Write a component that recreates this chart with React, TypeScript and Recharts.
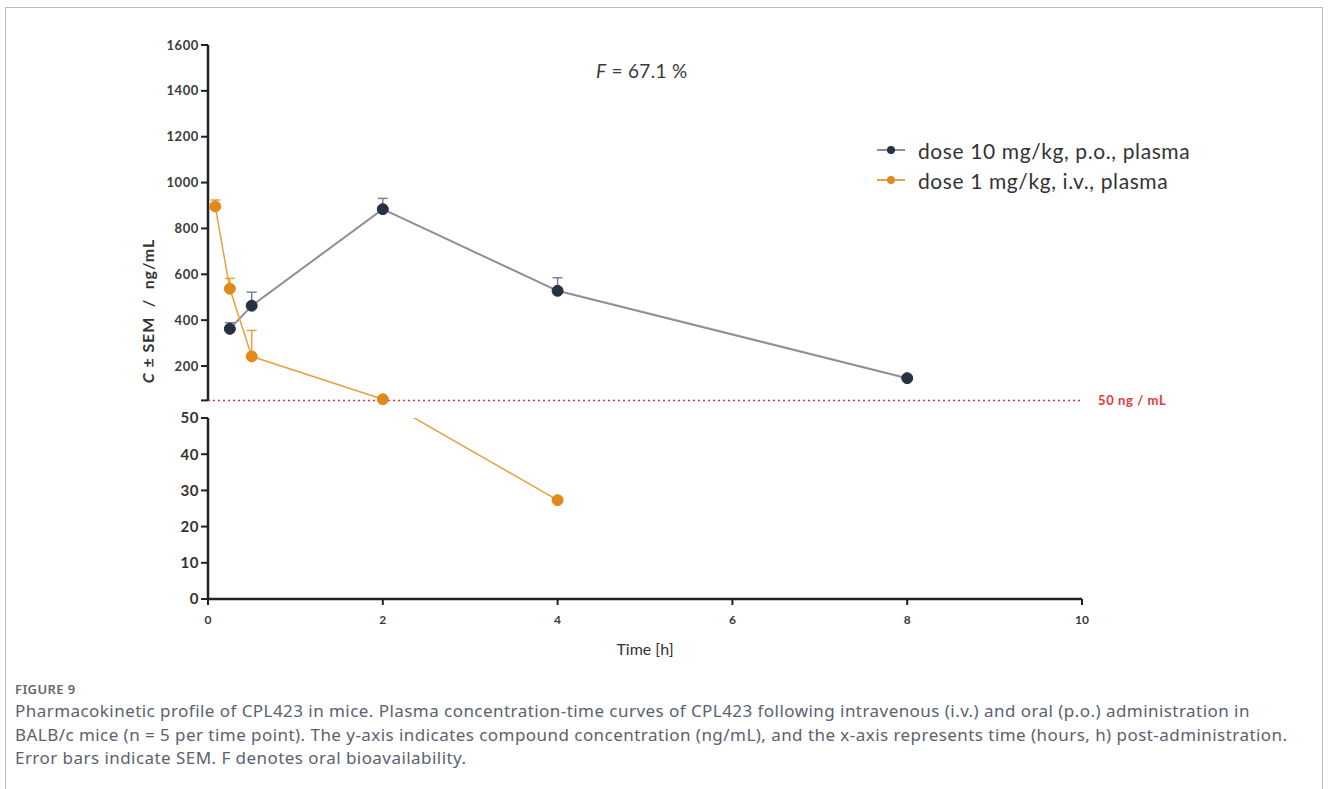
import { LineChart, Line, XAxis, YAxis, ErrorBar, ReferenceLine } from "recharts";

// p.o. 10 mg/kg
const poTime = [0.25, 0.5, 2, 4, 8];
const poConc = [362, 463, 884, 528, 147];
const poSem = [27, 59, 47, 57, 3];

// i.v. 1 mg/kg
const ivTime = [0.083, 0.25, 0.5, 2, 4];
const ivConc = [896, 537, 242, 55, 27.3];
const ivSem = [28, 45, 113, 0, 0];

const upperTicks = [50, 200, 400, 600, 800, 1000, 1200, 1400, 1600];
const lowerTicks = [0, 10, 20, 30, 40, 50];
const timeTicks = [0, 2, 4, 6, 8, 10];
const breakAt = 50;

const series = [
  { name: "dose 10 mg/kg, p.o., plasma", dot: "#263242", line: "#8b9097", bar: "#7d828a" },
  { name: "dose 1 mg/kg, i.v., plasma", dot: "#e0891c", line: "#e9a13e", bar: "#e9a13e" },
];

const AXIS = "#222";
const FONT = "Lato, 'Open Sans', sans-serif";

const po = poTime.map((t, i) => ({ t, c: poConc[i], err: [0, poSem[i]] }));
const iv = ivTime.map((t, i) => ({ t, c: ivConc[i], err: [0, ivSem[i]] }));

const dotStyle = (color: string) => ({ r: 5.5, fill: color, stroke: color, strokeWidth: 1, clipDot: false });

const W = 1328;
const margins = { right: 246, left: 158 };

export default function App() {
  return (
    <div
      style={{
        position: "absolute",
        left: 0,
        top: 0,
        width: W,
        height: 789,
        overflow: "hidden",
        background: "#fff",
        fontFamily: FONT,
      }}
    >
      {/* frame */}
      <div
        style={{
          position: "absolute",
          left: 5,
          top: 7,
          width: 1316,
          height: 820,
          border: "1px solid #bdbdbd",
        }}
      />

      {/* upper panel: 50 - 1600 */}
      <div style={{ position: "absolute", left: 0, top: 0 }}>
        <LineChart width={W} height={410} margin={{ top: 45, bottom: 9.6, ...margins }}>
          <XAxis type="number" dataKey="t" domain={[0, 10]} hide />
          <YAxis
            type="number"
            domain={[50, 1600]}
            ticks={upperTicks}
            allowDataOverflow
            width={50}
            tickSize={7}
            tickFormatter={(v) => (v === breakAt ? "" : String(v))}
            tick={{ fontSize: 13, fontWeight: 700, fill: "#3a3a3a", fontFamily: FONT, letterSpacing: 0.6 }}
            axisLine={{ stroke: AXIS, strokeWidth: 2.5 }}
            tickLine={{ stroke: AXIS, strokeWidth: 2 }}
          />
          <ReferenceLine
            y={breakAt}
            stroke="#e53935"
            strokeDasharray="2 3"
            strokeWidth={1.5}
            label={{
              value: "50 ng / mL",
              position: "right",
              offset: 16,
              fill: "#e53935",
              fontSize: 13,
              fontWeight: 700,
              fontFamily: FONT,
              letterSpacing: 0.6,
            }}
          />
          <Line data={po} dataKey="c" stroke={series[0].line} strokeWidth={2} dot={false} activeDot={false} isAnimationActive={false} />
          <Line
            data={iv.filter((d) => d.c >= breakAt)}
            dataKey="c"
            stroke={series[1].line}
            strokeWidth={1.5}
            dot={false}
            activeDot={false}
            isAnimationActive={false}
          />
          <Line
            data={po.filter((d) => d.c >= breakAt)}
            dataKey="c"
            stroke="none"
            dot={dotStyle(series[0].dot)}
            activeDot={false}
            isAnimationActive={false}
          >
            <ErrorBar dataKey="err" direction="y" width={5} stroke={series[0].bar} strokeWidth={1.5} isAnimationActive={false} />
          </Line>
          <Line
            data={iv.filter((d) => d.c >= breakAt)}
            dataKey="c"
            stroke="none"
            dot={dotStyle(series[1].dot)}
            activeDot={false}
            isAnimationActive={false}
          >
            <ErrorBar dataKey="err" direction="y" width={5} stroke={series[1].bar} strokeWidth={1.5} isAnimationActive={false} />
          </Line>
        </LineChart>
      </div>

      {/* lower panel: 0 - 50 */}
      <div style={{ position: "absolute", left: 0, top: 400 }}>
        <LineChart width={W} height={260} margin={{ top: 18, bottom: 1, ...margins }}>
          <XAxis
            type="number"
            dataKey="t"
            domain={[0, 10]}
            ticks={timeTicks}
            height={60}
            tickSize={6}
            tickMargin={10}
            tick={{ fontSize: 12, fontWeight: 700, fill: "#3a3a3a", fontFamily: FONT }}
            axisLine={{ stroke: AXIS, strokeWidth: 2.5 }}
            tickLine={{ stroke: AXIS, strokeWidth: 2 }}
            label={{ value: "Time [h]", position: "insideBottom", offset: 4, fill: "#333", fontSize: 16, fontFamily: FONT }}
          />
          <YAxis
            type="number"
            domain={[0, 50]}
            ticks={lowerTicks}
            allowDataOverflow
            width={50}
            tickSize={7}
            tick={{ fontSize: 15, fontWeight: 700, fill: "#333", fontFamily: FONT, letterSpacing: 0.5 }}
            axisLine={{ stroke: AXIS, strokeWidth: 2.5 }}
            tickLine={{ stroke: AXIS, strokeWidth: 2 }}
          />
          <Line data={iv} dataKey="c" stroke={series[1].line} strokeWidth={1.5} dot={false} activeDot={false} isAnimationActive={false} />
          <Line
            data={iv.filter((d) => d.c < breakAt)}
            dataKey="c"
            stroke="none"
            dot={dotStyle(series[1].dot)}
            activeDot={false}
            isAnimationActive={false}
          />
        </LineChart>
      </div>

      {/* y-axis title */}
      <svg style={{ position: "absolute", left: 0, top: 0 }} width={200} height={600}>
        <text
          transform="translate(154,311) rotate(-90)"
          textAnchor="middle"
          fontFamily={FONT}
          fontSize={16}
          fontWeight={700}
          fill="#333"
          letterSpacing={0.9}
          style={{ whiteSpace: "pre" }}
        >
          <tspan fontStyle="italic">C</tspan>
          <tspan>{" ± SEM  /  ng/mL"}</tspan>
        </text>
      </svg>

      {/* bioavailability */}
      <div
        style={{
          position: "absolute",
          left: 596,
          top: 59,
          fontSize: 19,
          color: "#3a3a3a",
          whiteSpace: "pre",
          letterSpacing: 0.3,
        }}
      >
        <i>F</i> = 67.1 %
      </div>

      {/* legend */}
      <div style={{ position: "absolute", left: 876, top: 135 }}>
        {series.map((s) => (
          <div key={s.name} style={{ display: "flex", alignItems: "center", height: 30 }}>
            <svg width={30} height={12} style={{ marginRight: 12 }}>
              <line x1={1} y1={6} x2={29} y2={6} stroke={s.line} strokeWidth={2} />
              <circle cx={15} cy={6} r={4} fill={s.dot} />
            </svg>
            <span style={{ fontSize: 21, color: "#333", letterSpacing: 0.6 }}>{s.name}</span>
          </div>
        ))}
      </div>

      {/* caption */}
      <div
        style={{
          position: "absolute",
          left: 15,
          top: 679,
          fontFamily: "'Noto Sans', 'Open Sans', sans-serif",
          color: "#5b6170",
        }}
      >
        <div style={{ fontSize: 13, fontWeight: 600, color: "#666", lineHeight: "20px", letterSpacing: 0.4 }}>FIGURE 9</div>
        <div style={{ fontSize: 17, lineHeight: "23.5px", whiteSpace: "nowrap", letterSpacing: 0.45 }}>
          Pharmacokinetic profile of CPL423 in mice. Plasma concentration-time curves of CPL423 following intravenous (i.v.) and oral (p.o.) administration in
          <br />
          BALB/c mice (n = 5 per time point). The y-axis indicates compound concentration (ng/mL), and the x-axis represents time (hours, h) post-administration.
          <br />
          Error bars indicate SEM. F denotes oral bioavailability.
        </div>
      </div>
    </div>
  );
}
